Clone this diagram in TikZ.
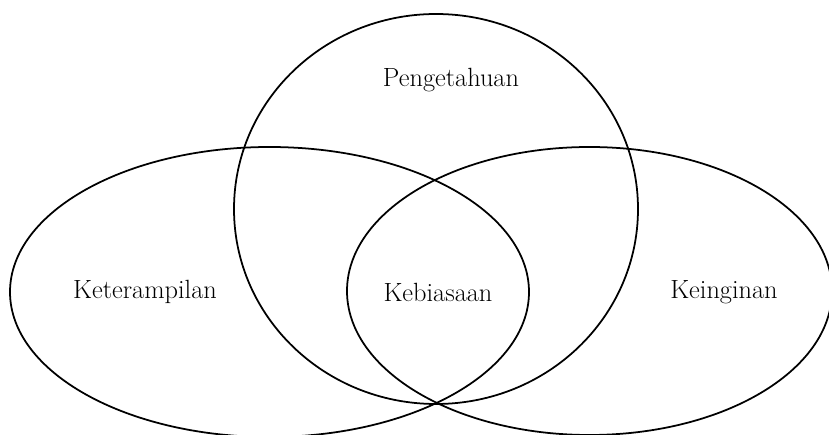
\documentclass[tikz,border=0pt]{standalone}
\begin{document}
\begin{tikzpicture}[x=0.02cm, y=-0.02cm, setStyle/.style={draw, line width=1pt}, labelStyle/.style={font=\fontsize{15}{18}\selectfont, inner sep=0pt}]
    \useasboundingbox (0,0) rectangle (829,435);

    \coordinate (top_c)   at (436, 209);
    \coordinate (left_c)  at (269.5, 292);
    \coordinate (right_c) at (589.5, 291);

    \draw[setStyle] (top_c)   ellipse [x radius=202, y radius=195];
    \draw[setStyle] (left_c)  ellipse [x radius=259.5, y radius=145];
    \draw[setStyle] (right_c) ellipse [x radius=242.5, y radius=144];

    \node[labelStyle] (pengetahuan)  at (451, 80)  {Pengetahuan};
    \node[labelStyle] (keterampilan) at (145, 292) {Keterampilan};
    \node[labelStyle] (kebiasaan)    at (438, 292) {Kebiasaan};
    \node[labelStyle] (keinginan)    at (724, 292) {Keinginan};
\end{tikzpicture}
\end{document}
